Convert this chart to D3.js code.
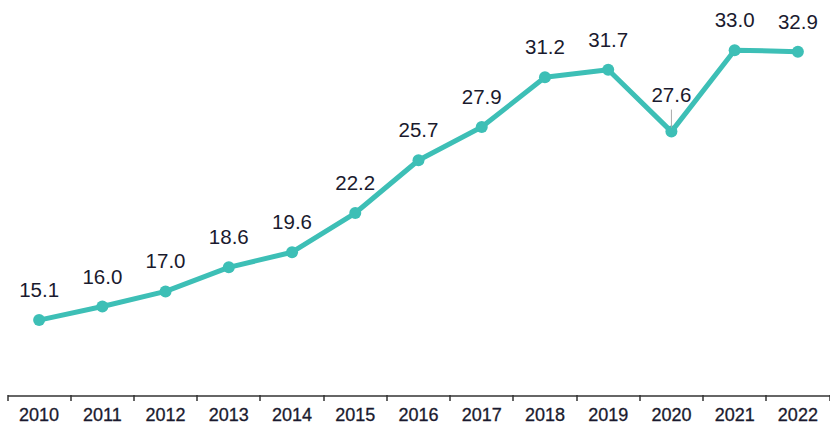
<!DOCTYPE html>
<html><head><meta charset="utf-8">
<script src="https://cdn.jsdelivr.net/npm/d3@7"></script>
<style>body{margin:0;background:#fff}svg{display:block}</style>
</head><body>
<svg id="c" width="830" height="427"></svg>
<script>
const years = ["2010","2011","2012","2013","2014","2015","2016","2017","2018","2019","2020","2021","2022"];
const values = [15.1,16.0,17.0,18.6,19.6,22.2,25.7,27.9,31.2,31.7,27.6,33.0,32.9];
const labelOffsets = [23,23,23,23,23,23,23,23,23,23,30,23,23];

const svg = d3.select("#c");
const x = d3.scaleBand().domain(years).range([7.5, 829.5]);
const y = d3.scaleLinear().domain([10, 35]).range([397, 20]);
const color = "#3DBFB6";

const axis = svg.append("g").attr("transform","translate(0,395.5)")
  .call(d3.axisBottom(x).tickSize(0).tickPadding(0));
axis.select(".domain").attr("stroke","#333").attr("stroke-width",1.5);
axis.selectAll(".tick text").remove();
// boundary ticks
const bounds = years.map(d => x(d)).concat([x(years[years.length-1]) + x.bandwidth()]);
svg.append("g").selectAll("line").data(bounds).join("line")
  .attr("x1", d => Math.round(d)).attr("x2", d => Math.round(d))
  .attr("y1", 395).attr("y2", 401)
  .attr("stroke","#333").attr("stroke-width",1.5);
svg.append("g").selectAll("text").data(years).join("text")
  .attr("x", d => x(d) + x.bandwidth()/2)
  .attr("y", 421)
  .attr("text-anchor","middle")
  .attr("font-family","Liberation Sans, Arial, sans-serif")
  .attr("font-size", 18)
  .attr("fill","#1a1a2e")
  .attr("stroke","#1a1a2e").attr("stroke-width",0.3)
  .text(d => d);

const cx = (d,i) => x(years[i]) + x.bandwidth()/2;
const line = d3.line().x((d,i)=>cx(d,i)).y(d=>y(d));
svg.append("path").datum(values).attr("d", line)
  .attr("fill","none").attr("stroke",color).attr("stroke-width",5)
  .attr("stroke-linejoin","round");
svg.append("g").selectAll("circle").data(values).join("circle")
  .attr("cx", cx).attr("cy", d => y(d)).attr("r", 6).attr("fill", color);

// leader line for 2020
const i20 = years.indexOf("2020");
svg.append("line")
  .attr("x1", cx(values[i20], i20)).attr("x2", cx(values[i20], i20))
  .attr("y1", y(values[i20]) - 22).attr("y2", y(values[i20]) - 4)
  .attr("stroke","#aaa").attr("stroke-width",1);

svg.append("g").selectAll("text").data(values).join("text")
  .attr("x", cx)
  .attr("y", (d,i) => y(d) - labelOffsets[i])
  .attr("text-anchor","middle")
  .attr("font-family","Liberation Sans, Arial, sans-serif")
  .attr("font-size", 20.5)
  .attr("fill","#1a1a2e")
  .text(d => d.toFixed(1));
</script>
</body></html>
